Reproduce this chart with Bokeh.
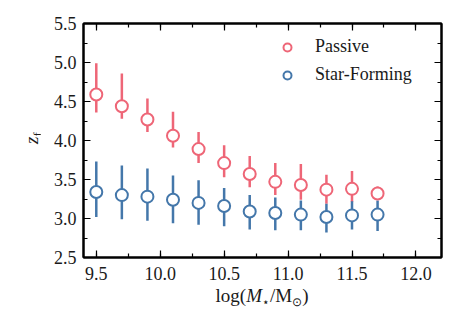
from bokeh.plotting import figure
from bokeh.layouts import row, column
from bokeh.models import (LinearAxis, Range1d, FixedTicker, Legend, LegendItem,
                          ColumnDataSource, CustomJSTickFormatter, Div)
from bokeh.embed import file_html
from bokeh.resources import INLINE

# ---- data ----
mass = [9.5, 9.7, 9.9, 10.1, 10.3, 10.5, 10.7, 10.9, 11.1, 11.3, 11.5, 11.7]

passive_z = [4.59, 4.44, 4.27, 4.06, 3.89, 3.71, 3.57, 3.47, 3.43, 3.37, 3.38, 3.32]
passive_lo = [4.36, 4.28, 4.11, 3.91, 3.71, 3.53, 3.40, 3.30, 3.24, 3.19, 3.21, 3.24]
passive_hi = [4.99, 4.86, 4.54, 4.37, 4.11, 3.94, 3.80, 3.71, 3.70, 3.56, 3.61, 3.41]

sf_z = [3.34, 3.30, 3.28, 3.24, 3.20, 3.16, 3.09, 3.07, 3.05, 3.02, 3.04, 3.05]
sf_lo = [3.02, 2.99, 2.97, 2.94, 2.92, 2.90, 2.86, 2.85, 2.85, 2.82, 2.86, 2.84]
sf_hi = [3.73, 3.68, 3.64, 3.55, 3.49, 3.39, 3.30, 3.27, 3.23, 3.19, 3.22, 3.23]

x_ticks = [9.5, 10.0, 10.5, 11.0, 11.5, 12.0]
x_tick_labels = ["9.5", "10.0", "10.5", "11.0", "11.5", "12.0"]
y_ticks = [2.5, 3.0, 3.5, 4.0, 4.5, 5.0, 5.5]
y_tick_labels = ["2.5", "3.0", "3.5", "4.0", "4.5", "5.0", "5.5"]
x_minor = [9.5, 9.75, 10.0, 10.25, 10.5, 10.75, 11.0, 11.25, 11.5, 11.75, 12.0]
y_minor = [2.5, 2.75, 3.0, 3.25, 3.5, 3.75, 4.0, 4.25, 4.5, 4.75, 5.0, 5.25, 5.5]

series_names = ["Passive", "Star-Forming"]

RED = "#EE6677"
BLUE = "#4477AA"
FONT = "Liberation Serif"
FS = "18px"
TXT = "#1a1a1a"

src_p = ColumnDataSource(dict(x=mass, y=passive_z, lo=passive_lo, hi=passive_hi))
src_s = ColumnDataSource(dict(x=mass, y=sf_z, lo=sf_lo, hi=sf_hi))

YW = 40      # width of the y-label strip
XH = 40      # height of the x-label strip

p = figure(width=464 - YW, height=325 - XH, output_backend="svg", toolbar_location=None,
           x_range=Range1d(9.4, 12.2), y_range=Range1d(2.5, 5.5),
           x_axis_location=None, y_axis_location=None,
           min_border_left=83 - YW, min_border_right=23, min_border_top=23,
           min_border_bottom=325 - XH - 257, margin=0)
p.xgrid.visible = False
p.ygrid.visible = False
p.outline_line_color = "black"
p.outline_line_width = 2
p.background_fill_color = "white"
p.border_fill_color = "white"

def style_axis(ax):
    ax.axis_line_width = 2
    ax.axis_line_color = "black"
    ax.major_tick_in = 7
    ax.major_tick_out = 0
    ax.minor_tick_in = 4
    ax.minor_tick_out = 0
    ax.major_tick_line_width = 1.2
    ax.minor_tick_line_width = 1.2
    ax.major_label_text_font = FONT
    ax.major_label_text_font_size = FS
    ax.major_label_text_color = TXT

blank = CustomJSTickFormatter(code="return ''")

xb = LinearAxis(ticker=FixedTicker(ticks=x_ticks, minor_ticks=x_minor))
style_axis(xb)
xb.major_label_overrides = dict(zip(x_ticks, x_tick_labels))
xb.major_label_standoff = 9
p.add_layout(xb, "below")

yl = LinearAxis(ticker=FixedTicker(ticks=y_ticks, minor_ticks=y_minor))
style_axis(yl)
yl.major_label_overrides = dict(zip(y_ticks, y_tick_labels))
yl.major_label_standoff = 7
p.add_layout(yl, "left")

xa = LinearAxis(ticker=FixedTicker(ticks=x_ticks, minor_ticks=x_minor), formatter=blank)
style_axis(xa)
xa.major_label_standoff = 0
p.add_layout(xa, "above")

yr = LinearAxis(ticker=FixedTicker(ticks=y_ticks, minor_ticks=y_minor), formatter=blank)
style_axis(yr)
yr.major_label_standoff = 0
p.add_layout(yr, "right")

# error bars
p.segment(x0="x", y0="lo", x1="x", y1="hi", source=src_p, line_color=RED, line_width=2.5)
p.segment(x0="x", y0="lo", x1="x", y1="hi", source=src_s, line_color=BLUE, line_width=2.5)
# markers
rp = p.scatter("x", "y", source=src_p, marker="circle", size=12, fill_color="white",
               line_color=RED, line_width=2)
rs = p.scatter("x", "y", source=src_s, marker="circle", size=12, fill_color="white",
               line_color=BLUE, line_width=2)

legend = Legend(items=[LegendItem(label=series_names[0], renderers=[rp]),
                       LegendItem(label=series_names[1], renderers=[rs])],
                location=(194, 172))
legend.border_line_color = None
legend.background_fill_alpha = 0
legend.label_text_font = FONT
legend.label_text_font_size = FS
legend.label_text_color = TXT
legend.glyph_width = 20
legend.glyph_height = 20
legend.label_height = 20
legend.spacing = 7
legend.padding = 0
legend.margin = 0
legend.label_standoff = 18
p.add_layout(legend)

# axis titles as HTML (italic symbols and subscripts)
base = ("position:absolute;white-space:nowrap;line-height:1;"
        "font-family:'Liberation Serif',serif;font-size:19px;color:%s;" % TXT)
ylab = Div(width=YW, height=325 - XH, margin=0,
           text=('<div style="%sleft:33px;top:138px;'
                 'transform:translate(-50%%,-50%%) rotate(-90deg);">'
                 '<i>z</i><sub style="font-size:13px">f</sub></div>') % base)
xlab = Div(width=464, height=XH, margin=0,
           text=('<div style="%sleft:262px;top:12px;'
                 'transform:translate(-50%%,-50%%);">'
                 'log(<i>M</i><sub style="font-size:12px">⋆</sub>/M'
                 '<sub style="font-size:12px">⊙</sub>)</div>') % base)

layout = column(row(ylab, p, spacing=0, margin=0), xlab, spacing=0, margin=0)

open("out.html", "w").write(file_html(layout, INLINE))
